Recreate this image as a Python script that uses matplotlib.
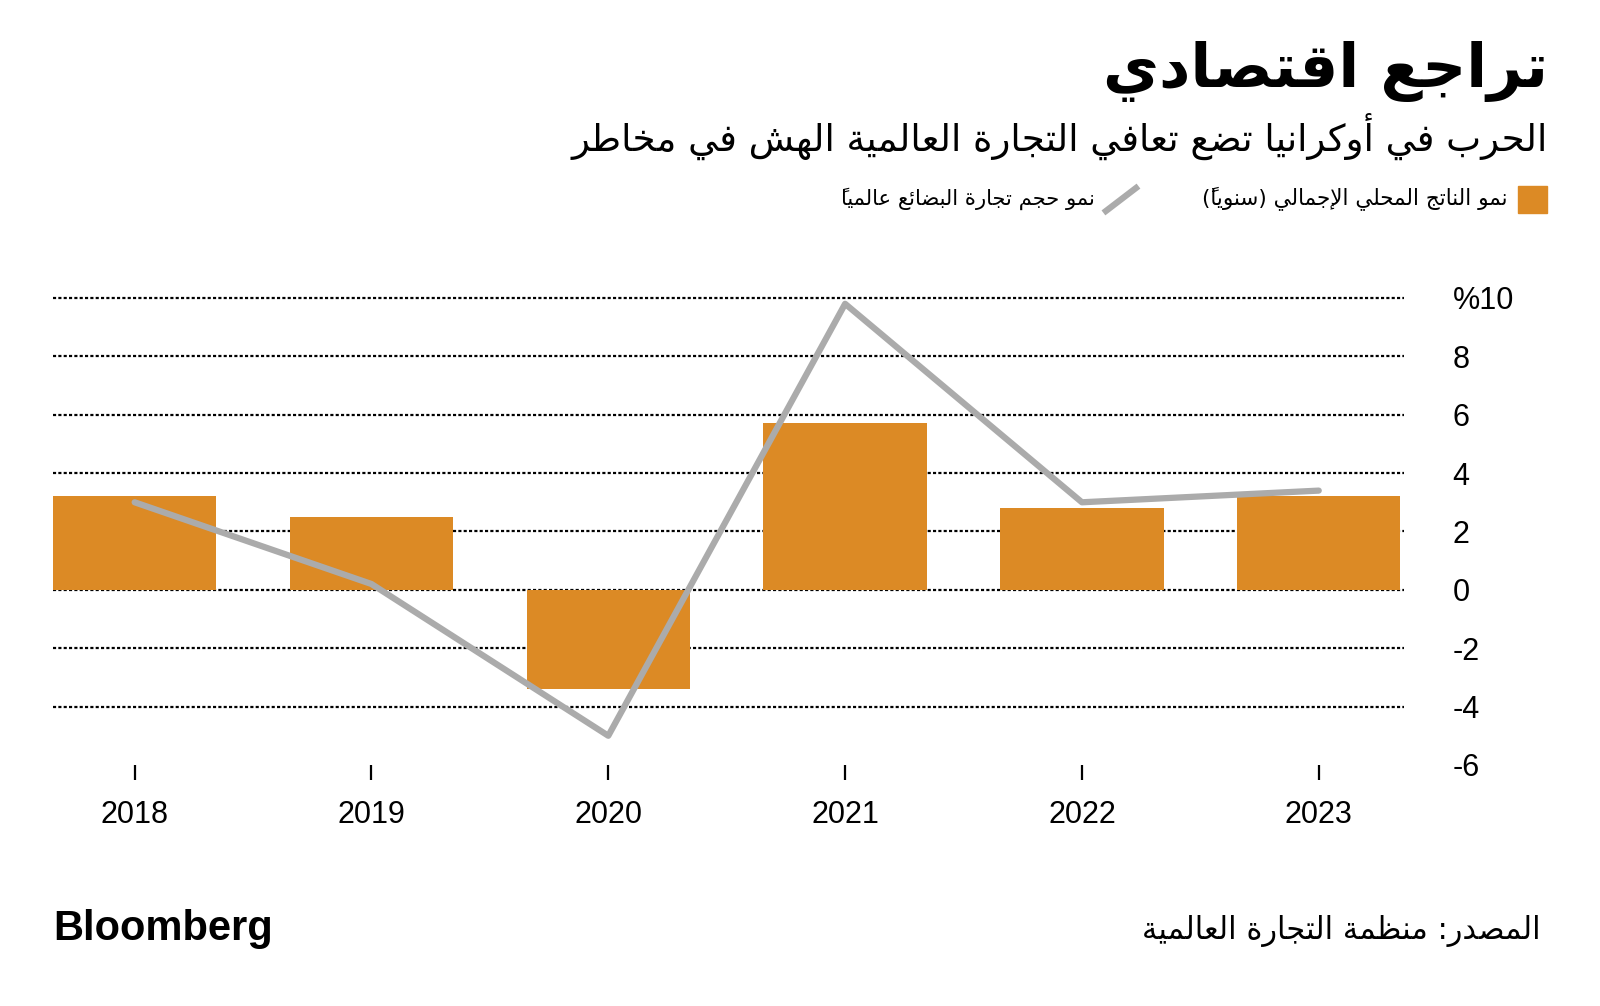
import matplotlib
matplotlib.use('Agg')
import matplotlib.pyplot as plt
from matplotlib.patches import Rectangle
from matplotlib.lines import Line2D

years = ['2018', '2019', '2020', '2021', '2022', '2023']
gdp_growth = [3.2, 2.5, -3.4, 5.7, 2.8, 3.2]
trade_growth = [3.0, 0.2, -5.0, 9.8, 3.0, 3.4]
y_ticks = [-6, -4, -2, 0, 2, 4, 6, 8, 10]
y_tick_labels = ['-6', '-4', '-2', '0', '2', '4', '6', '8', '%10']

title = 'تراجع اقتصادي'
subtitle = 'الحرب في أوكرانيا تضع تعافي التجارة العالمية الهش في مخاطر'
gdp_label = 'نمو الناتج المحلي الإجمالي (سنوياً)'
trade_label = 'نمو حجم تجارة البضائع عالمياً'
source = 'المصدر: منظمة التجارة العالمية'

ORANGE = '#DC8A25'
GREY = '#ABABAB'

# matplotlib has no Arabic shaping: map letters to presentation forms and
# lay them out right to left by hand
AR_FORMS = {
    'ء': (0xFE80, 1), 'آ': (0xFE81, 2), 'أ': (0xFE83, 2), 'ؤ': (0xFE85, 2),
    'إ': (0xFE87, 2), 'ئ': (0xFE89, 4), 'ا': (0xFE8D, 2), 'ب': (0xFE8F, 4),
    'ة': (0xFE93, 2), 'ت': (0xFE95, 4), 'ث': (0xFE99, 4), 'ج': (0xFE9D, 4),
    'ح': (0xFEA1, 4), 'خ': (0xFEA5, 4), 'د': (0xFEA9, 2), 'ذ': (0xFEAB, 2),
    'ر': (0xFEAD, 2), 'ز': (0xFEAF, 2), 'س': (0xFEB1, 4), 'ش': (0xFEB5, 4),
    'ص': (0xFEB9, 4), 'ض': (0xFEBD, 4), 'ط': (0xFEC1, 4), 'ظ': (0xFEC5, 4),
    'ع': (0xFEC9, 4), 'غ': (0xFECD, 4), 'ف': (0xFED1, 4), 'ق': (0xFED5, 4),
    'ك': (0xFED9, 4), 'ل': (0xFEDD, 4), 'م': (0xFEE1, 4), 'ن': (0xFEE5, 4),
    'ه': (0xFEE9, 4), 'و': (0xFEED, 2), 'ى': (0xFEEF, 2), 'ي': (0xFEF1, 4),
}
LAM_ALEF = {'آ': 0xFEF5, 'أ': 0xFEF7, 'إ': 0xFEF9, 'ا': 0xFEFB}
MIRROR = {'(': ')', ')': '('}


def is_mark(c):
    return '\u064B' <= c <= '\u065F' or c == '\u0670'


def rtl(text):
    chars = list(text)
    n = len(chars)

    def neighbour(i, step):
        j = i + step
        while 0 <= j < n and is_mark(chars[j]):
            j += step
        return j if 0 <= j < n and chars[j] in AR_FORMS else None

    clusters = []
    i = 0
    while i < n:
        c = chars[i]
        if c in AR_FORMS:
            p = neighbour(i, -1)
            nx = neighbour(i, 1)
            joins_prev = p is not None and AR_FORMS[chars[p]][1] == 4
            if c == 'ل' and nx is not None and chars[nx] in LAM_ALEF:
                glyph = chr(LAM_ALEF[chars[nx]] + (1 if joins_prev else 0))
                i = nx + 1
            else:
                base, nforms = AR_FORMS[c]
                joins_next = nforms == 4 and nx is not None and AR_FORMS[chars[nx]][1] >= 2
                if joins_prev and joins_next:
                    off = 3
                elif joins_prev:
                    off = 1
                elif joins_next:
                    off = 2
                else:
                    off = 0
                if nforms == 1:
                    off = 0
                glyph = chr(base + off)
                i += 1
            # marks go in front so they land on their letter when drawn LTR
            marks = ''
            while i < n and is_mark(chars[i]):
                marks += chars[i]
                i += 1
            clusters.append(marks + glyph)
        else:
            clusters.append(MIRROR.get(c, c))
            i += 1
    return ''.join(reversed(clusters))


fig = plt.figure(figsize=(16, 10.06), dpi=100)
ax = fig.add_axes([0.0331, 0.2396, 0.8444, 0.4642])

x = list(range(len(years)))
for t in y_ticks[1:]:
    ax.axhline(t, color='black', lw=1.6, linestyle=(0, (1.4, 1.0)), zorder=0,
               clip_on=False)

ax.bar(x, gdp_growth, width=0.69, color=ORANGE, zorder=2)
ax.plot(x, trade_growth, color=GREY, lw=4.5, solid_capstyle='round',
        solid_joinstyle='round', zorder=3, clip_on=False)

ax.set_xlim(-0.345, 5.36)
ax.set_ylim(-6, 10)
for s in ax.spines.values():
    s.set_visible(False)

ax.set_xticks(x)
ax.set_xticklabels(years, fontsize=22, family='Liberation Sans')
ax.tick_params(axis='x', length=11, width=1.6, color='black', pad=14)

ax.yaxis.tick_right()
ax.set_yticks(y_ticks)
ax.set_yticklabels(y_tick_labels, fontsize=22, family='Liberation Sans')
for lab in ax.get_yticklabels():
    lab.set_horizontalalignment('left')
ax.tick_params(axis='y', length=0, pad=35)

# titles
fig.text(0.9675, 0.929, rtl(title), ha='right', va='center', fontsize=44,
         fontweight='bold', family='DejaVu Sans')
fig.text(0.9675, 0.864, rtl(subtitle), ha='right', va='center', fontsize=26.7,
         family='DejaVu Sans')

# legend
fig.patches.append(Rectangle((0.949, 0.788), 0.018, 0.0268, color=ORANGE,
                             transform=fig.transFigure, figure=fig))
fig.text(0.9425, 0.802, rtl(gdp_label), ha='right', va='center', fontsize=15.5,
         family='DejaVu Sans')
fig.lines.append(Line2D([0.6912, 0.7100], [1 - 211 / 1006, 1 - 188 / 1006],
                        color=GREY, lw=4.5, transform=fig.transFigure, figure=fig))
fig.text(0.6845, 0.802, rtl(trade_label), ha='right', va='center', fontsize=15.2,
         family='DejaVu Sans')

# footer
fig.text(0.033, 0.077, 'Bloomberg', ha='left', va='center', fontsize=30,
         fontweight='bold', family='Liberation Sans')
fig.text(0.963, 0.075, rtl(source), ha='right', va='center', fontsize=22,
         family='DejaVu Sans')

fig.savefig('out.png', dpi=100, facecolor='white')
